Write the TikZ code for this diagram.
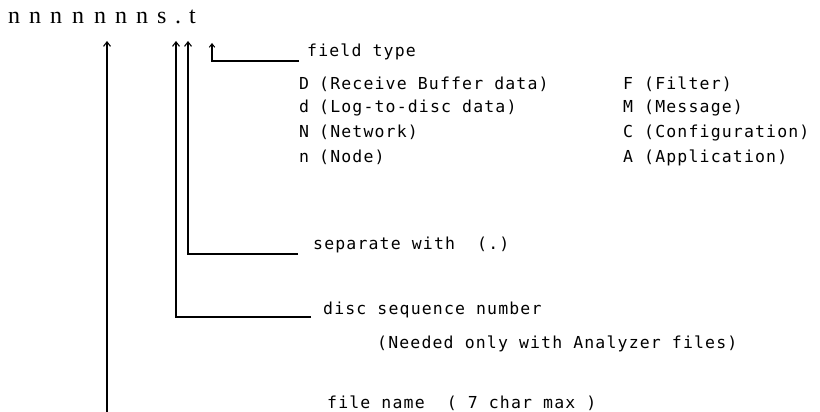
\documentclass[tikz,border=0pt]{standalone}
\usepackage{fontspec}
\setmainfont{Liberation Serif}
\newfontfamily\monof[LetterSpace=7]{DejaVu Sans Mono}
\usetikzlibrary{arrows.meta}
\begin{document}
\begin{tikzpicture}[x=1pt,y=-1pt,
  lbl/.style={font=\monof\fontsize{16.5}{19}\selectfont, anchor=base west, inner sep=0pt},
  top/.style={font=\fontsize{24}{28}\selectfont, anchor=base west, inner sep=0pt},
  conn/.style={line width=1.2pt, -{Straight Barb[length=4.5pt,width=7pt,line width=1.1pt]}},
  connsmall/.style={line width=1.1pt, -{Straight Barb[length=3.5pt,width=5.5pt,line width=1pt]}}]
\useasboundingbox (0,0) rectangle (820,412);
% top file name characters
\foreach \ch/\xx [count=\i] in {n/8,n/29,n/50,n/72,n/94,n/115,n/136,s/157,./175,t/189}
  \node[top] (c\i) at (\xx,24) {\ch};
% arrow tips
\coordinate (t1) at (107,41);
\coordinate (t2) at (176,41);
\coordinate (t3) at (188,41);
\coordinate (t4) at (212,43);
% labels
\node[lbl] (ft) at (307,57) {field type};
\node[lbl] (kD) at (299,89) {D};
\node[lbl] (vD) at (319,89) {(Receive Buffer data)};
\node[lbl] (kd) at (299,113) {d};
\node[lbl] (vd) at (319,113) {(Log-to-disc data)};
\node[lbl] (kN) at (299,137) {N};
\node[lbl] (vN) at (319,137) {(Network)};
\node[lbl] (kn) at (299,162) {n};
\node[lbl] (vn) at (319,162) {(Node)};
\node[lbl] (rF) at (623,89) {F (Filter)};
\node[lbl] (rM) at (623,113) {M (Message)};
\node[lbl] (rC) at (623,137) {C (Configuration)};
\node[lbl] (rA) at (623,162) {A (Application)};
\node[lbl] (sep) at (313,249) {separate with\ \ (.)};
\node[lbl] (disc) at (323,314) {disc sequence number};
\node[lbl] (need) at (377,348) {(Needed only with Analyzer files)};
\node[lbl] (fn) at (327,408) {file name\ \ ( 7 char max )};
% connectors
\coordinate (h4) at (299,61);
\coordinate (h3) at (298,254);
\coordinate (h2) at (311,317);
\coordinate (b1) at (107,412);
\draw[connsmall] (h4) -| (t4);
\draw[conn] (h3) -| (t3);
\draw[conn] (h2) -| (t2);
\draw[conn] (b1) -- (t1);
\end{tikzpicture}
\end{document}
